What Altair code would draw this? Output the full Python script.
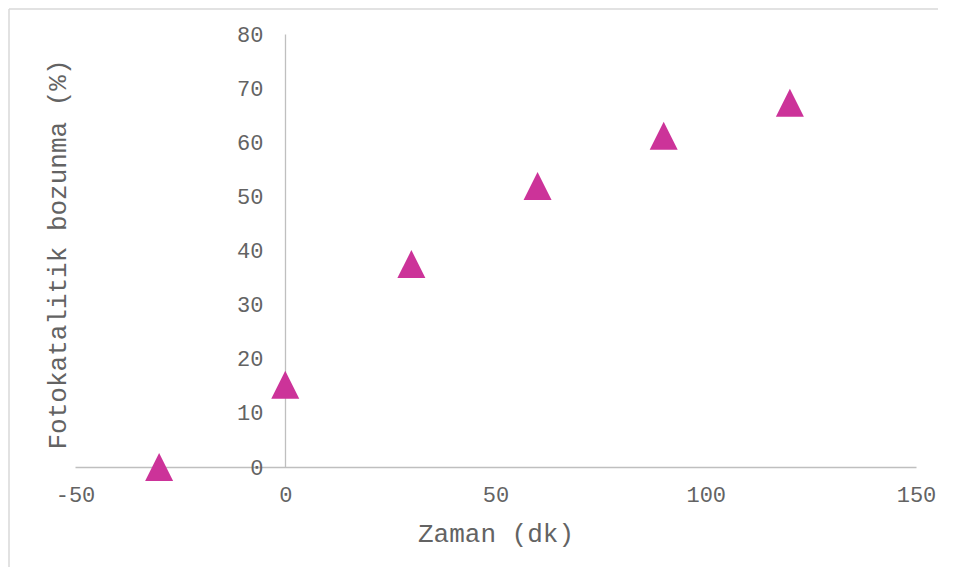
import altair as alt
import pandas as pd

# Data
time_min = [-30, 0, 30, 60, 90, 120]
degradation = [0, 15.2, 37.5, 51.9, 61.2, 67.3]
x_ticks = [-50, 0, 50, 100, 150]
y_ticks = [0, 10, 20, 30, 40, 50, 60, 70, 80]

df = pd.DataFrame({"Zaman": time_min, "Bozunma": degradation})

W, H = 841, 433
FONT = "Liberation Mono"
TXT = "#636363"
AX = "#bfbfbf"

points = alt.Chart(df).mark_point(
    shape="M0,-1L1,1L-1,1Z", filled=True, size=784, color="#CC3399", opacity=1
).encode(
    x=alt.X(
        "Zaman:Q",
        scale=alt.Scale(domain=[-50, 150], nice=False, zero=False),
        axis=alt.Axis(
            values=x_ticks, title="Zaman (dk)", grid=False, ticks=False, tickSize=0,
            domainColor=AX, domainWidth=1.3,
            labelFont=FONT, labelFontSize=22, labelColor=TXT, labelPadding=17,
            labelExpr="'' + datum.value", labelFlush=False, labelOverlap=False,
            titleFont=FONT, titleFontSize=26, titleFontWeight="normal", titleColor=TXT,
            titleY=66, titleBaseline="middle",
        ),
    ),
    y=alt.Y(
        "Bozunma:Q",
        scale=alt.Scale(domain=[0, 80], nice=False),
        axis=alt.Axis(
            values=y_ticks, title="Fotokatalitik bozunma (%)", grid=False, ticks=False, tickSize=0,
            offset=-210, domainColor=AX, domainWidth=1.3,
            labelFont=FONT, labelFontSize=22, labelColor=TXT, labelPadding=22,
            labelFlush=False, labelOverlap=False,
            titleFont=FONT, titleFontSize=26, titleFontWeight="normal", titleColor=TXT,
            titleX=-228, titleY=220, titleBaseline="middle", titleAngle=270,
        ),
    ),
)

frame_df = pd.DataFrame({"f": [0]})
frame_top = alt.Chart(frame_df).mark_rule(color="#d9d9d9", strokeWidth=1.5).encode(
    x=alt.value(-66), x2=alt.value(W + 22), y=alt.value(-25)
)
frame_left = alt.Chart(frame_df).mark_rule(color="#d9d9d9", strokeWidth=1.5).encode(
    x=alt.value(-66), y=alt.value(-25), y2=alt.value(H + 100)
)

chart = alt.layer(frame_top, frame_left, points).properties(
    width=W, height=H,
    background="white",
    autosize=alt.AutoSizeParams(type="none"),
    padding={"left": 67, "top": 26, "right": 22, "bottom": 100},
).configure_view(stroke=None, strokeWidth=0)

chart.save("out.html", embed_options={"renderer": "svg", "actions": False})
